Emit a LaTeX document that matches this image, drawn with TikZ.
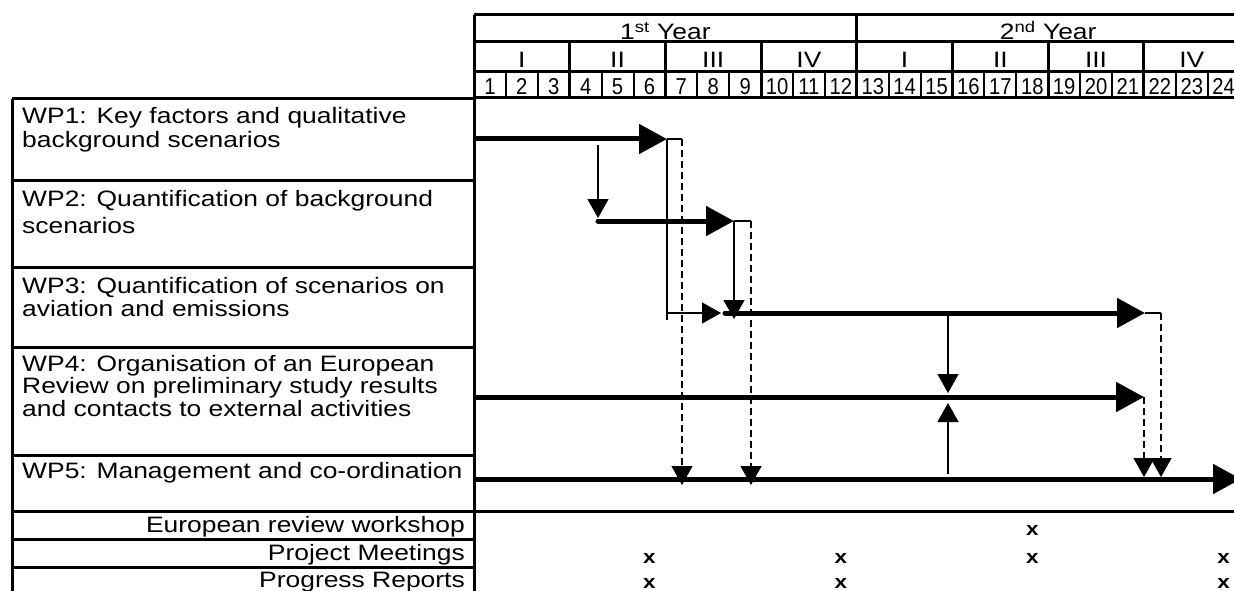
\documentclass[tikz,border=0pt]{standalone}
\usepackage{fontspec}
\setmainfont[FakeStretch=1.185]{Liberation Sans}
\newfontfamily\monfont[FakeStretch=0.88]{Liberation Sans}
\usetikzlibrary{arrows.meta}
\begin{document}
\begin{tikzpicture}[x=1pt,y=-1pt,
  grid/.style={line width=3pt},
  mgrid/.style={line width=2pt},
  bar/.style={line width=5pt,-{Triangle[length=28pt,width=29pt]}},
  link/.style={line width=1.4pt},
  linkarrow/.style={line width=1.4pt,-{Triangle[length=19pt,width=21pt]}},
  dlink/.style={line width=1.4pt,dash pattern=on 7pt off 4pt,-{Triangle[length=19pt,width=21pt]}},
  lbl/.style={anchor=base west,inner sep=0pt,font=\fontsize{22.3}{22}\selectfont},
  rlbl/.style={anchor=base east,inner sep=0pt,font=\fontsize{22.3}{22}\selectfont},
  ylbl/.style={anchor=base,inner sep=0pt,font=\fontsize{22.3}{22}\selectfont},
  qlbl/.style={anchor=base,inner sep=0pt,font=\fontsize{22.3}{22}\selectfont},
  mlbl/.style={anchor=base,inner sep=0pt,font=\monfont\fontsize{23}{23}\selectfont},
  xmark/.style={anchor=base,inner sep=0pt,font=\bfseries\fontsize{19}{19}\selectfont}
]
\useasboundingbox (0,0) rectangle (1234,591);
\fill[white] (0,0) rectangle (1234,591);
\clip (0,0) rectangle (1234,591);

% ---------- header grid ----------
\draw[grid] (474,15) -- (1245,15);
\draw[grid] (474,42) -- (1245,42);
\draw[grid] (474,72) -- (1245,72);
\draw[grid] (474,98) -- (1245,98);
\foreach \m in {1,...,23}{
  \draw[mgrid] ({474+\m*31.9},72) -- ({474+\m*31.9},98);
}
\foreach \q in {3,6,9,15,18,21}{
  \draw[grid] ({474+\q*31.9},42) -- ({474+\q*31.9},98);
}
\draw[grid] ({474+12*31.9},15) -- ({474+12*31.9},98);
\foreach \m in {1,...,24}{
  \node[mlbl] (mon\m) at ({474+(\m-0.5)*31.9},95) {\m};
}
\node[ylbl] (year1) at ({474+6*31.9},40) {1\textsuperscript{st} Year};
\node[ylbl] (year2) at ({474+18*31.9},40) {2\textsuperscript{nd} Year};
\foreach \q/\t [count=\i] in {0/I,1/II,2/III,3/IV,4/I,5/II,6/III,7/IV}{
  \node[qlbl] (qt\i) at ({474+(3*\q+1.5)*31.9},68) {\t};
}

% ---------- left label table ----------
\draw[grid] (12,99) -- (474,99);
\draw[grid] (12,99) -- (12,595);
\draw[grid] (474,15) -- (474,595);
\draw[grid] (12,180) -- (474,180);
\draw[grid] (12,267) -- (474,267);
\draw[grid] (12,347) -- (474,347);
\draw[grid] (12,455) -- (474,455);
\draw[grid] (12,511) -- (1245,511);
\draw[grid] (12,539) -- (474,539);
\draw[grid] (12,567) -- (474,567);

\node[lbl] (wp1a) at (22,124) {WP1: Key factors and qualitative};
\node[lbl] (wp1b) at (22,147) {background scenarios};
\node[lbl] (wp2a) at (22,206) {WP2: Quantification of background};
\node[lbl] (wp2b) at (22,233) {scenarios};
\node[lbl] (wp3a) at (22,293) {WP3: Quantification of scenarios on};
\node[lbl] (wp3b) at (22,316) {aviation and emissions};
\node[lbl] (wp4a) at (22,371) {WP4: Organisation of an European};
\node[lbl] (wp4b) at (22,393.5) {Review on preliminary study results};
\node[lbl] (wp4c) at (22,416) {and contacts to external activities};
\node[lbl] (wp5a) at (22,478) {WP5: Management and co-ordination};

\node[rlbl] (rw) at (465,532) {European review workshop};
\node[rlbl] (pm) at (465,560) {Project Meetings};
\node[rlbl] (pr) at (465,587) {Progress Reports};

\node[xmark] (x1) at ({474+17.5*31.9},535) {x};
\foreach \m [count=\i] in {6,12,18,24}{
  \node[xmark] (xp\i) at ({474+(\m-0.5)*31.9},563) {x};
}
\foreach \m [count=\i] in {6,12,24}{
  \node[xmark] (xr\i) at ({474+(\m-0.5)*31.9},588.5) {x};
}

% ---------- coordinates ----------
\coordinate (b1s) at (474,139);
\coordinate (b1e) at (667,139);
\coordinate (c1a) at (682,139);
\coordinate (c1d) at (682,485);
\coordinate (c1v) at (667,320);
\coordinate (c1h) at (667,313);
\coordinate (c1t) at (721,313);
\coordinate (a12s) at (598,145);
\coordinate (a12e) at (598,218);
\coordinate (b2s) at (598,221);
\coordinate (b2e) at (734,221);
\coordinate (c2a) at (751,221);
\coordinate (c2d) at (751,485);
\coordinate (c2v) at (734,319);
\coordinate (b3s) at (725,313);
\coordinate (b3e) at (1145,313);
\coordinate (c3a) at (1161,313);
\coordinate (c3d) at (1161,477);
\coordinate (a34s) at (948,313);
\coordinate (a34e) at (948,393);
\coordinate (b4s) at (474,397);
\coordinate (b4e) at (1144,397);
\coordinate (c4d) at (1144,477);
\coordinate (a54s) at (948,474);
\coordinate (a54e) at (948,403);
\coordinate (b5s) at (474,479);
\coordinate (b5e) at (1241,479);

% ---------- bars and links ----------
\draw[bar] (b1s) -- (b1e);
\draw[link] (b1e) -- (c1a);
\draw[link] (b1e) -- (c1v);
\draw[linkarrow] (c1h) -- (c1t);
\draw[dlink] (c1a) -- (c1d);
\draw[linkarrow] (a12s) -- (a12e);

\draw[bar,line cap=round] (b2s) -- (b2e);
\draw[link] (b2e) -- (c2a);
\draw[linkarrow] (b2e) -- (c2v);
\draw[dlink] (c2a) -- (c2d);

\draw[bar,line cap=round] (b3s) -- (b3e);
\draw[link] (b3e) -- (c3a);
\draw[dlink] (c3a) -- (c3d);
\draw[linkarrow] (a34s) -- (a34e);

\draw[bar] (b4s) -- (b4e);
\draw[dlink] (b4e) -- (c4d);
\draw[linkarrow] (a54s) -- (a54e);

\draw[bar] (b5s) -- (b5e);
\end{tikzpicture}
\end{document}
